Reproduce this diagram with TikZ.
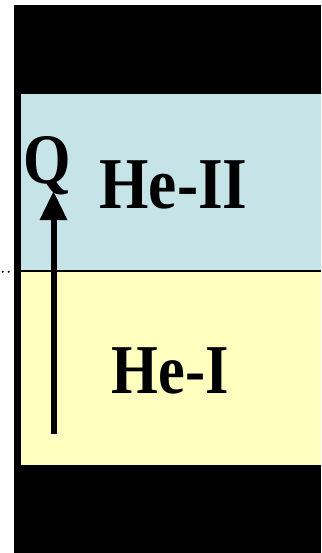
\documentclass[tikz,border=0pt]{standalone}
\usepackage{fontspec}
\setmainfont{Liberation Serif}
\usetikzlibrary{arrows.meta}
\definecolor{heiiblue}{RGB}{198,228,232}
\definecolor{heiyellow}{RGB}{255,255,192}
\tikzset{
  label text/.style={inner sep=0pt, anchor=base, font=\bfseries},
  heat arrow/.style={line width=6pt, -{Triangle[length=29pt,width=26pt]}},
}
\newcommand{\bigtext}[3]{\scalebox{#2}[1]{\fontsize{#1}{#1}\selectfont #3}}
\begin{document}
\begin{tikzpicture}[x=1pt, y=-1pt]
  \useasboundingbox (0,0) rectangle (321,553);
  % outer black vessel
  \fill[black] (13.5,5) rectangle (321,553);
  % superfluid and normal helium layers
  \fill[heiiblue] (21,94) rectangle (321,271);
  \fill[heiyellow] (21,271) rectangle (321,465);
  % lambda interface
  \coordinate (ifl) at (14,271);
  \coordinate (ifr) at (321,271);
  \coordinate (dotl) at (2.7,271.7);
  \draw[line width=2pt] (ifl) -- (ifr);
  \draw[line width=2.2pt, line cap=round, dash pattern=on 0pt off 6pt] (dotl) -- (ifl |- dotl);
  % heat flow
  \coordinate (qfoot) at (53.5,434);
  \coordinate (qtip) at (53.5,191);
  \draw[heat arrow] (qfoot) -- (qtip);
  \node[label text] (q) at (47,183) {\bigtext{71}{0.86}{Q}};
  \node[label text] (heii) at (173.5,208) {\bigtext{73}{0.87}{He-II}};
  \node[label text] (hei) at (170.5,393) {\bigtext{70}{0.86}{He-I}};
\end{tikzpicture}
\end{document}
